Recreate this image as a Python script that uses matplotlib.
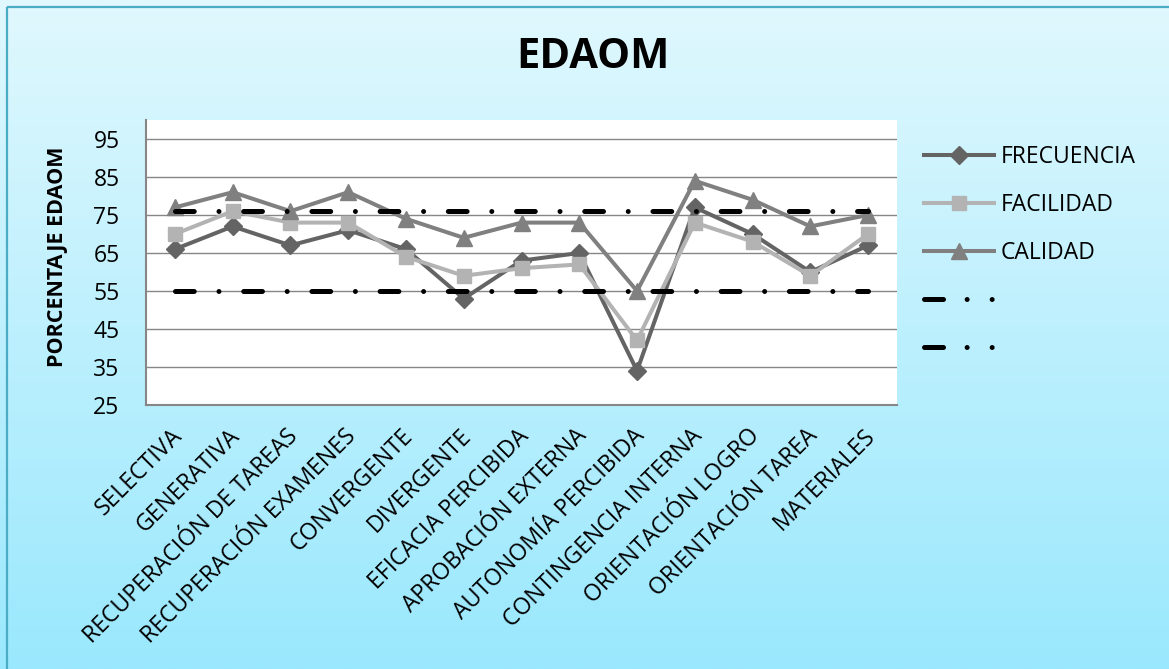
import numpy as np
import matplotlib
matplotlib.use("Agg")
import matplotlib.pyplot as plt
import matplotlib.transforms as mtransforms
from matplotlib.lines import Line2D
from matplotlib.patches import Rectangle

plt.rcParams['font.family'] = ['Open Sans', 'DejaVu Sans']
plt.rcParams['lines.scale_dashes'] = False

categorias = ["SELECTIVA", "GENERATIVA", "RECUPERACIÓN DE TAREAS",
              "RECUPERACIÓN EXAMENES", "CONVERGENTE", "DIVERGENTE",
              "EFICACIA PERCIBIDA", "APROBACIÓN EXTERNA", "AUTONOMÍA PERCIBIDA",
              "CONTINGENCIA INTERNA", "ORIENTACIÓN LOGRO", "ORIENTACIÓN TAREA",
              "MATERIALES"]
frecuencia = [66, 72, 67, 71, 66, 53, 63, 65, 34, 77, 70, 60, 67]
facilidad = [70, 76, 73, 73, 64, 59, 61, 62, 42, 73, 68, 59, 70]
calidad = [77, 81, 76, 81, 74, 69, 73, 73, 55, 84, 79, 72, 75]
limite_sup = [76, 76, 76, 76, 76, 76, 76, 76, 76, 76, 76, 76, 76]
limite_inf = [55, 55, 55, 55, 55, 55, 55, 55, 55, 55, 55, 55, 55]
yticks = [25, 35, 45, 55, 65, 75, 85, 95]

W, H = 1169, 669
fig = plt.figure(figsize=(W / 100, H / 100), dpi=100)

# background gradient + border
bg = fig.add_axes([0, 0, 1, 1], zorder=-10)
top = np.array([224, 248, 254]) / 255
bot = np.array([154, 232, 253]) / 255
t = np.linspace(0, 1, 256)[:, None, None]
grad = top * (1 - t) + bot * t
bg.imshow(grad, aspect='auto', extent=[0, W, H, 0])
bg.add_patch(Rectangle((7, 7), W + 20, H + 20, fill=False, edgecolor='#4bacc6', lw=1.6))
bg.set_xlim(0, W)
bg.set_ylim(H, 0)
bg.axis('off')

ax = fig.add_axes([146 / W, 1 - 405 / H, (897 - 146) / W, (405 - 120) / H])
ax.set_facecolor('white')
x = np.arange(len(categorias))

lw = 2.9
ax.plot(x, frecuencia, color='#646464', lw=lw, marker='D', ms=9, zorder=3)
ax.plot(x, facilidad, color='#b3b3b3', lw=lw, marker='s', ms=10, zorder=4)
ax.plot(x, calidad, color='#808080', lw=lw, marker='^', ms=11.5, zorder=5)

dash = (13.5, 17.8, 0.01, 17.8)
for serie in (limite_sup, limite_inf):
    ax.plot(x, serie, color='black', lw=3.6, dashes=dash,
            dash_capstyle='round', zorder=6)

ax.set_xlim(-0.5, len(categorias) - 0.5)
ax.set_ylim(25, 100)
ax.set_yticks(yticks)
ax.yaxis.grid(True, color='#868686', lw=1.0)
ax.set_axisbelow(True)
for s in ('top', 'right'):
    ax.spines[s].set_visible(False)
for s in ('left', 'bottom'):
    ax.spines[s].set_color('#868686')
    ax.spines[s].set_linewidth(1.5)
ax.tick_params(axis='y', length=0, pad=19, labelsize=16.5)
ax.tick_params(axis='x', length=0, pad=20, labelsize=16.6)
ax.set_xticks(x)
ax.set_xticklabels(categorias, rotation=45, ha='right', va='center',
                   rotation_mode='anchor')
off = mtransforms.ScaledTranslation(4 / 100, 0, fig.dpi_scale_trans)
for lab in ax.get_xticklabels():
    lab.set_transform(lab.get_transform() + off)

fig.text(57 / W, 1 - 257 / H, "PORCENTAJE EDAOM", rotation=90,
         ha='center', va='center', fontsize=15.5, fontweight='bold')
fig.text(593 / W, 1 - 58 / H, "EDAOM", ha='center', va='center',
         fontsize=30, fontweight='bold')

handles = [
    Line2D([], [], color='#646464', lw=lw, marker='D', ms=9),
    Line2D([], [], color='#b3b3b3', lw=lw, marker='s', ms=10),
    Line2D([], [], color='#808080', lw=lw, marker='^', ms=11.5),
    Line2D([], [], color='black', lw=3.6, dashes=(13.7, 17, 0.01, 18, 0.01, 40),
           dash_capstyle='round'),
    Line2D([], [], color='black', lw=3.6, dashes=(13.7, 17, 0.01, 18, 0.01, 40),
           dash_capstyle='round'),
]
labels = ["FRECUENCIA", "FACILIDAD", "CALIDAD", " ", " "]
fig.legend(handles, labels, loc='upper left', bbox_to_anchor=(924 / W, 1 - 145 / H),
           frameon=False, fontsize=16.5, handlelength=3.05, handletextpad=0.3,
           labelspacing=1.05, borderpad=0, borderaxespad=0)

fig.savefig("out.png", dpi=100)
